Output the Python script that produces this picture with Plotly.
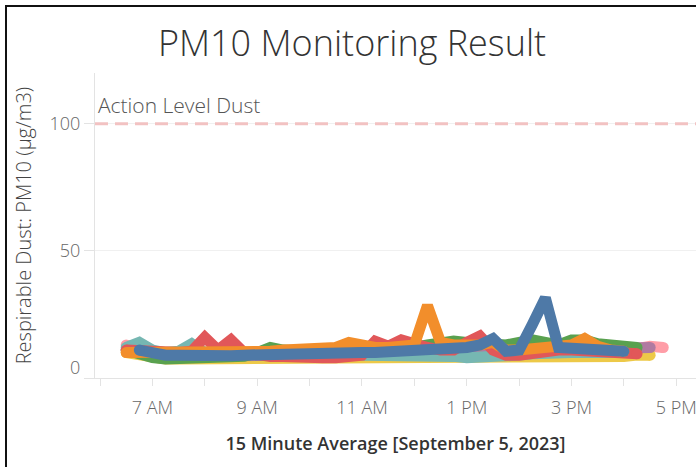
import plotly.graph_objects as go
import pandas as pd

# ---- data -------------------------------------------------------------
times = pd.date_range("2023-09-05 06:30", "2023-09-05 16:45", freq="15min")

N = None
pink = [13, 10, 9, 8.5, 8.5, 8.5, 8.5, 8.5, 8.5, 8.5, 9, 9, 9, 9, 9, 9, 8.5, 8.5, 9, 9, 9, 9,
        9, 9, 9, 9, 9, 9, 9, 9, 9, 9, 9, 9.5, 9.5, 10, 10, 10, 10.5, 11.5, 12.5, 12]
yellow = [10, 9, 8, 7.5, 7.5, 7.5, 7.5, 7.5, 7.5, 8, 8, 8, 8, 8, 8, 8, 8, 8, 8, 8, 8, 8,
          8, 8.5, 8.5, 8.5, 8.5, 8.5, 8.5, 8.5, 8, 8, 8, 8, 8, 8, 8.5, 8.5, 8.5, 9, 9, N]
purple = [11, 10, 9, 8.5, 8.5, 8.5, 8.5, 8.5, 8.5, 9, 9, 9, 9, 9, 9, 9, 9, 9, 9.5, 9.5, 9.5, 9.5,
          10, 10, 10, 10, 10, 10, 10, 10, 10, 10, 10, 10.5, 11, 11, 11.5, 11.5, 12, 12, 12, N]
green = [11, 9, 8, 7.5, 7.5, 7.5, 7.5, 7.5, 8, 8.5, 10, 12, 11, 10.5, 10.5, 11, 11, 11, 11, 11, 11.5, 11.5,
         12, 13, 14, 14.5, 14, 13.5, 13, 13, 14, 15, 14, 13, 15, 15, 13.5, 13, 12.5, 12, N, N]
teal = [12, 14, 11, 10, 10.5, 13.5, 10, 9.5, 9.5, 9.5, 9.5, 9.5, 9.5, 9.5, 9.5, 9.5, 9.5, 9.5, 9.5, 9.5, 9.5, 9.5,
        9.5, 9.5, 9, 8.5, 8, 8, 8.5, 9, 9, 9.5, 10, 10, 10, 10, 10, 10, 10, N, N, N]
red = [11, 10.5, 10, 10, 10, 10.5, 16, 11, 15, 10, 9, 8.5, 8.5, 8, 8, 8, 8, 8, 9, 14.5, 12.5, 15,
       13, 12, 11, 11, 14, 16.5, 11, 9, 9, 10, 10.5, 11, 11, 10.5, 10, 9.5, 9.5, 9.5, N, N]
orange = [10, 10, 9.5, 9.5, 9.5, 10, 10, 10, 9.5, 10, 10, 10.5, 11, 11, 11, 11.5, 12, 14, 12.5, 12, 12, 12.5,
          13, 28.5, 14, 13, 12.5, 13, 14, 11, 11, 11.5, 12, 12.5, 13, 15.5, 12.5, 11, 10.5, N, N, N]
blue = [N, 11, 9.5, 9, 9, 8.8, 8.5, 8.5, 8.8, 9, 9.2, 9.5, 9.8, 10, 10, 10, 10.2, 10, 10, 10, 10.2, 10,
        10.5, 11, 11, 11.5, 12, 13, 15.5, 10.5, 11, 21, 31.5, 12, 11.5, 12, 11, 10.5, 10.5, N, N, N]

series_names = ["Pink", "Yellow", "Purple", "Green", "Teal", "Red", "Orange", "Blue"]
series_values = [pink, yellow, purple, green, teal, red, orange, blue]
series_colors = ["#ff9da7", "#edc948", "#b07aa1", "#59a14f", "#76b7b2", "#e15759", "#f28e2b", "#4e79a7"]

x_tick_times = pd.date_range("2023-09-05 06:00", "2023-09-05 17:00", freq="1h")
x_tick_labels = ["", "7 AM", "", "9 AM", "", "11 AM", "", "1 PM", "", "3 PM", "", "5 PM"]
y_tick_vals = [0, 50, 100]
y_tick_labels = ["", "50", "100"]
action_level = 100

# ---- figure -----------------------------------------------------------
W, H = 696, 467
L, R, T, B = 95, 0, 73, 89
FONT = "Open Sans"
LW = 11
fig = go.Figure()

for name, vals, col in zip(series_names, series_values, series_colors):
    fig.add_trace(go.Scatter(
        x=times, y=vals, mode="lines", name=name,
        line=dict(color=col, width=LW),
        connectgaps=False, showlegend=False))
    # round line caps at both ends
    idx = [i for i, v in enumerate(vals) if v is not None]
    ends = [idx[0], idx[-1]]
    fig.add_trace(go.Scatter(
        x=[times[i] for i in ends], y=[vals[i] for i in ends], mode="markers",
        marker=dict(color=col, size=LW, line=dict(width=0)),
        showlegend=False, hoverinfo="skip"))

# action level dashed line
fig.add_shape(type="line", xref="paper", x0=0, x1=1, yref="y",
              y0=action_level, y1=action_level,
              line=dict(color="#f2c2c2", width=3, dash="13px,7px"), layer="above")
fig.add_annotation(xref="paper", x=0, xanchor="left", xshift=1, yref="y", y=action_level,
                   yanchor="bottom", yshift=3, text="Action Level Dust", showarrow=False,
                   font=dict(family=FONT, size=21, color="#555555", weight=300))
# "0" label shifted into the pane as in the original
fig.add_annotation(xref="paper", x=0, xanchor="right", xshift=-13, yref="y", y=0,
                   yanchor="middle", yshift=11, text="0", showarrow=False,
                   font=dict(family=FONT, size=18, color="#666666", weight=300))

# frame (left & top border)
pw = W - L - R
ph = H - T - B
def px2x(px): return (px - L) / pw
def py2y(py): return (H - B - py) / ph
fig.add_shape(type="line", xref="paper", yref="paper", x0=px2x(6), x1=px2x(6),
              y0=py2y(5), y1=py2y(470), line=dict(color="#111111", width=2))
fig.add_shape(type="line", xref="paper", yref="paper", x0=px2x(5), x1=px2x(700),
              y0=py2y(6), y1=py2y(6), line=dict(color="#111111", width=2))

fig.update_layout(
    width=W, height=H,
    margin=dict(l=L, r=R, t=T, b=B, autoexpand=False),
    paper_bgcolor="white", plot_bgcolor="white",
    font=dict(family=FONT, color="#555555"),
    title=dict(text="PM10 Monitoring Result", x=352 / W, xanchor="center",
               y=1 - 43 / H, yanchor="middle",
               font=dict(family=FONT, size=36, color="#333333", weight=300)),
)
fig.update_xaxes(
    automargin=False,
    range=[pd.Timestamp("2023-09-05 05:54:16"), pd.Timestamp("2023-09-05 17:22:30")],
    tickvals=x_tick_times, ticktext=x_tick_labels,
    ticks="outside", ticklen=7, tickcolor="#e3e3e3", tickwidth=1,
    showline=True, linecolor="#e3e3e3", linewidth=1,
    showgrid=False, zeroline=False,
    tickfont=dict(family=FONT, size=18, color="#666666", weight=300),
    ticklabelstandoff=6, ticklabeloverflow="allow",
    title=dict(text="15 Minute Average [September 5, 2023]", standoff=19,
               font=dict(family=FONT, size=18, color="#333333", weight=600)),
)
fig.update_yaxes(
    automargin=False,
    range=[0, 120], tickvals=y_tick_vals, ticktext=y_tick_labels,
    ticks="outside", ticklen=10, tickcolor="#e3e3e3",
    showline=True, linecolor="#e3e3e3", linewidth=1,
    showgrid=True, gridcolor="#f0f0f0", zeroline=False,
    tickfont=dict(family=FONT, size=18, color="#666666", weight=300),
    title=dict(text="Respirable Dust: PM10 (µg/m3)", standoff=12,
               font=dict(family=FONT, size=20, color="#444444", weight=300)),
)

fig.write_html("out.html", config={"displayModeBar": False},
               post_script="document.body.style.margin='0';document.body.style.overflow='hidden';")
